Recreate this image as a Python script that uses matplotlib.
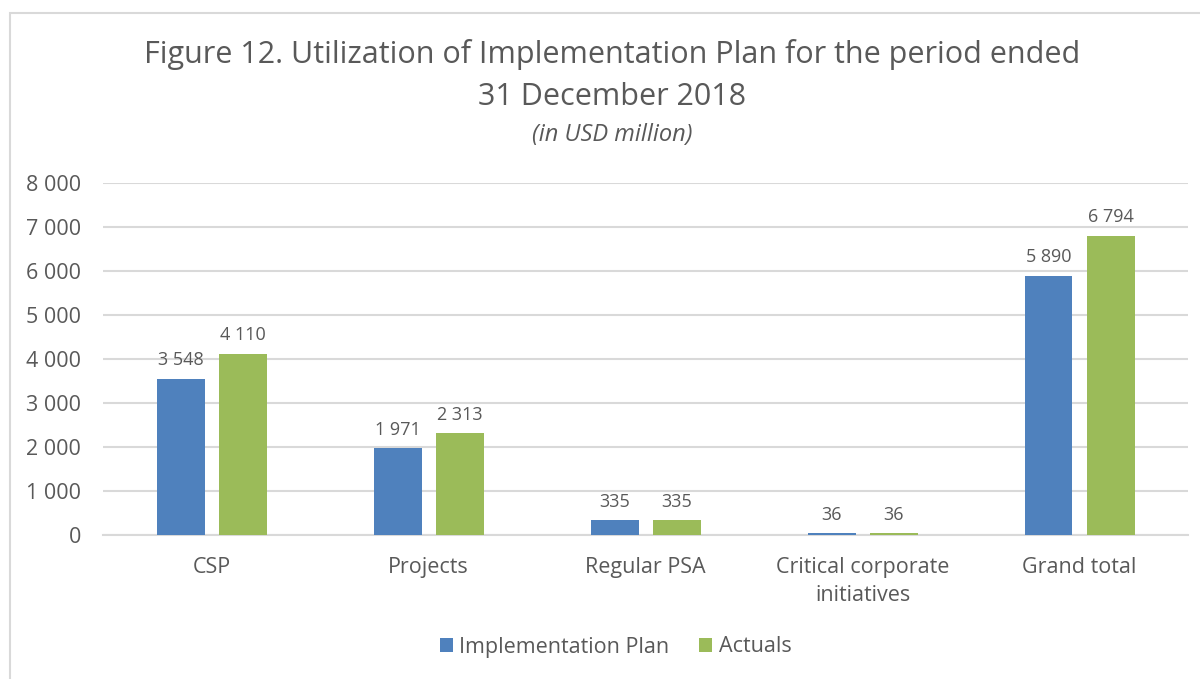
import matplotlib.pyplot as plt
from matplotlib.patches import Rectangle
import numpy as np

categories = ["CSP", "Projects", "Regular PSA", "Critical corporate\ninitiatives", "Grand total"]
plan = [3548, 1971, 335, 36, 5890]
actuals = [4110, 2313, 335, 36, 6794]
plan_labels = ["3 548", "1 971", "335", "36", "5 890"]
actual_labels = ["4 110", "2 313", "335", "36", "6 794"]
yticks = [0, 1000, 2000, 3000, 4000, 5000, 6000, 7000, 8000]
ytick_labels = ["0", "1 000", "2 000", "3 000", "4 000", "5 000", "6 000", "7 000", "8 000"]

blue = "#4f81bd"
green = "#9bbb59"
txt = "#595959"
grid = "#d9d9d9"

plt.rcParams['font.family'] = ['Open Sans', 'DejaVu Sans']

fig = plt.figure(figsize=(12, 6.79), dpi=100)
ax = fig.add_axes([0.086, 0.212, 0.904, 0.5185])

# light frame round the chart
fig.patches.append(Rectangle((10/1200, -0.1), 1.2, 1 - 13/679 + 0.1, transform=fig.transFigure,
                             fill=False, edgecolor=grid, linewidth=1.5))

x = np.arange(len(categories))
w = 0.221
off = 0.143
b1 = ax.bar(x - off, plan, w, color=blue, label="Implementation Plan", zorder=3)
b2 = ax.bar(x + off, actuals, w, color=green, label="Actuals", zorder=3)

for rect, lab in zip(b1, plan_labels):
    ax.annotate(lab, (rect.get_x() + rect.get_width()/2, rect.get_height()),
                xytext=(0, 7), textcoords="offset points", ha="center", va="bottom",
                fontsize=13, color=txt)
for rect, lab in zip(b2, actual_labels):
    ax.annotate(lab, (rect.get_x() + rect.get_width()/2, rect.get_height()),
                xytext=(0, 7), textcoords="offset points", ha="center", va="bottom",
                fontsize=13, color=txt)

ax.set_xlim(-0.5, len(categories) - 0.5)
ax.set_ylim(0, 8000)
ax.set_yticks(yticks)
ax.set_yticklabels(ytick_labels, fontsize=15.5, color=txt)
ax.set_xticks(x)
ax.set_xticklabels(categories, fontsize=15.5, color=txt, linespacing=1.45)
ax.tick_params(axis="both", length=0)
ax.tick_params(axis="y", pad=16)
ax.tick_params(axis="x", pad=16)
ax.grid(axis="y", color=grid, linewidth=1.5, zorder=0)
for s in ["top", "right", "left"]:
    ax.spines[s].set_visible(False)
ax.spines["bottom"].set_color(grid)
ax.spines["bottom"].set_linewidth(1.5)

fig.text(0.51, 1 - 55/679, "Figure 12. Utilization of Implementation Plan for the period ended",
         ha="center", va="center", fontsize=22, color=txt)
fig.text(0.51, 1 - 97/679, "31 December 2018", ha="center", va="center", fontsize=22, color=txt)
fig.text(0.51, 1 - 135/679, "(in USD million)", ha="center", va="center", fontsize=17,
         color=txt, style="italic")

fig.legend(loc="center", bbox_to_anchor=(0.513, 1 - 647/679), ncol=2, frameon=False,
           fontsize=15.5, labelcolor=txt, handlelength=0.6, handleheight=0.6,
           handletextpad=0.3, columnspacing=1.4)

fig.savefig("out.png", dpi=100)
